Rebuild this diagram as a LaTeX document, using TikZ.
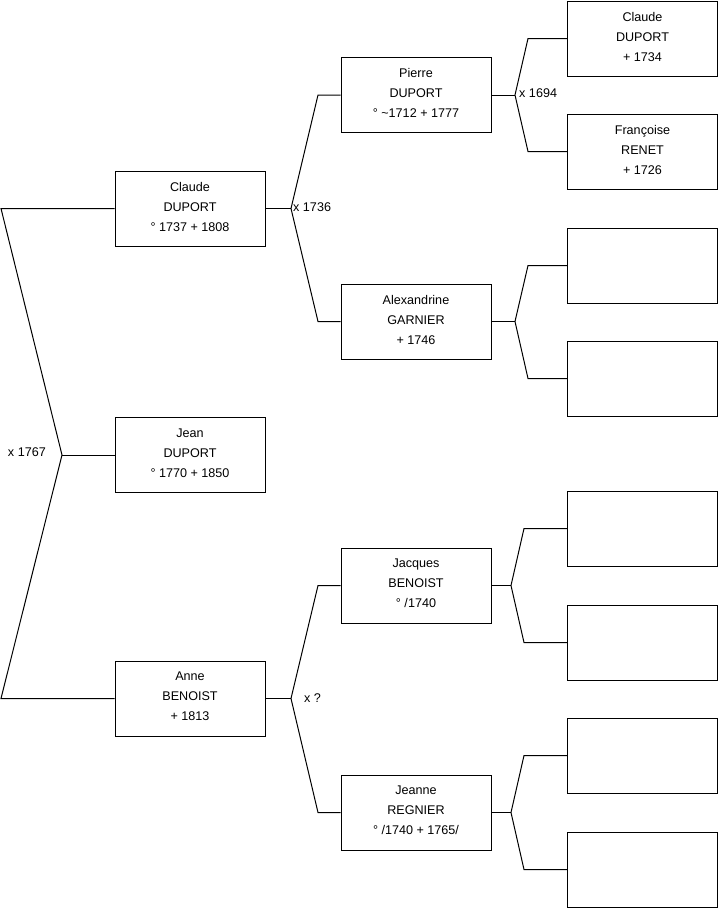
\documentclass[tikz,border=0pt]{standalone}
\usepackage{fontspec}
\setmainfont{Liberation Sans}
\usetikzlibrary{positioning}

\begin{document}
\begin{tikzpicture}[x=1pt,y=-1pt,
  person/.style={draw, line width=1pt, minimum width=150pt, minimum height=75pt,
    align=center, inner sep=0pt, text depth=4pt, font=\fontsize{12.6}{20}\selectfont},
  link/.style={line width=1pt},
  marr/.style={inner sep=0pt, font=\fontsize{12.6}{15}\selectfont}]
\useasboundingbox (0,0) rectangle (719,908);

% generation 0
\node[person] (jean) at (190,455) {Jean\\DUPORT\\° 1770 + 1850};

% generation 1
\node[person] (claude) at (190,208.5) {Claude\\DUPORT\\° 1737 + 1808};
\node[person] (anne) at (190,698.5) {Anne\\BENOIST\\+ 1813};

% generation 2
\node[person] (pierre) at (416,95) {Pierre\\DUPORT\\° \textasciitilde1712 + 1777};
\node[person] (alex) at (416,321.5) {Alexandrine\\GARNIER\\+ 1746};
\node[person] (jacques) at (416,585.5) {Jacques\\BENOIST\\° /1740};
\node[person] (jeanne) at (416,812.5) {Jeanne\\REGNIER\\° /1740 + 1765/};

% generation 3
\node[person] (claudeb) at (642.5,38.5) {Claude\\DUPORT\\+ 1734};
\node[person] (francoise) at (642.5,151.5) {Françoise\\RENET\\+ 1726};
\node[person] (e1) at (642.5,265.5) {};
\node[person] (e2) at (642.5,378.5) {};
\node[person] (e3) at (642.5,528.5) {};
\node[person] (e4) at (642.5,642.5) {};
\node[person] (e5) at (642.5,755.5) {};
\node[person] (e6) at (642.5,869.5) {};

% junctions
\coordinate (j0) at (62,455);
\coordinate (j0a) at (1,208.5);
\coordinate (j0b) at (1,698.5);
\coordinate (j1) at (291,208.5);
\coordinate (j1a) at (318,95);
\coordinate (j1b) at (318,321.5);
\coordinate (j2) at (291,698.5);
\coordinate (j2a) at (318,585.5);
\coordinate (j2b) at (318,812.5);
\coordinate (j3) at (515,95);
\coordinate (j3a) at (528,38.5);
\coordinate (j3b) at (528,151.5);
\coordinate (j4) at (515,321.5);
\coordinate (j4a) at (528,265.5);
\coordinate (j4b) at (528,378.5);
\coordinate (j5) at (511,585.5);
\coordinate (j5a) at (524,528.5);
\coordinate (j5b) at (524,642.5);
\coordinate (j6) at (511,812.5);
\coordinate (j6a) at (524,755.5);
\coordinate (j6b) at (524,869.5);

\draw[link] (claude.west) -- (j0a) -- (j0) -- (j0b) -- (anne.west);
\draw[link] (jean.west) -- (j0);
\draw[link] (pierre.west) -- (j1a) -- (j1) -- (j1b) -- (alex.west);
\draw[link] (claude.east) -- (j1);
\draw[link] (jacques.west) -- (j2a) -- (j2) -- (j2b) -- (jeanne.west);
\draw[link] (anne.east) -- (j2);
\draw[link] (claudeb.west) -- (j3a) -- (j3) -- (j3b) -- (francoise.west);
\draw[link] (pierre.east) -- (j3);
\draw[link] (e1.west) -- (j4a) -- (j4) -- (j4b) -- (e2.west);
\draw[link] (alex.east) -- (j4);
\draw[link] (e3.west) -- (j5a) -- (j5) -- (j5b) -- (e4.west);
\draw[link] (jacques.east) -- (j5);
\draw[link] (e5.west) -- (j6a) -- (j6) -- (j6b) -- (e6.west);
\draw[link] (jeanne.east) -- (j6);

% marriages
\node[marr, anchor=east] (m0) at (46,452) {x 1767};
\node[marr, anchor=west] (m1) at (293,207) {x 1736};
\node[marr, anchor=west] (m2) at (304,698) {x ?};
\node[marr, anchor=west] (m3) at (519,93) {x 1694};

\end{tikzpicture}
\end{document}
